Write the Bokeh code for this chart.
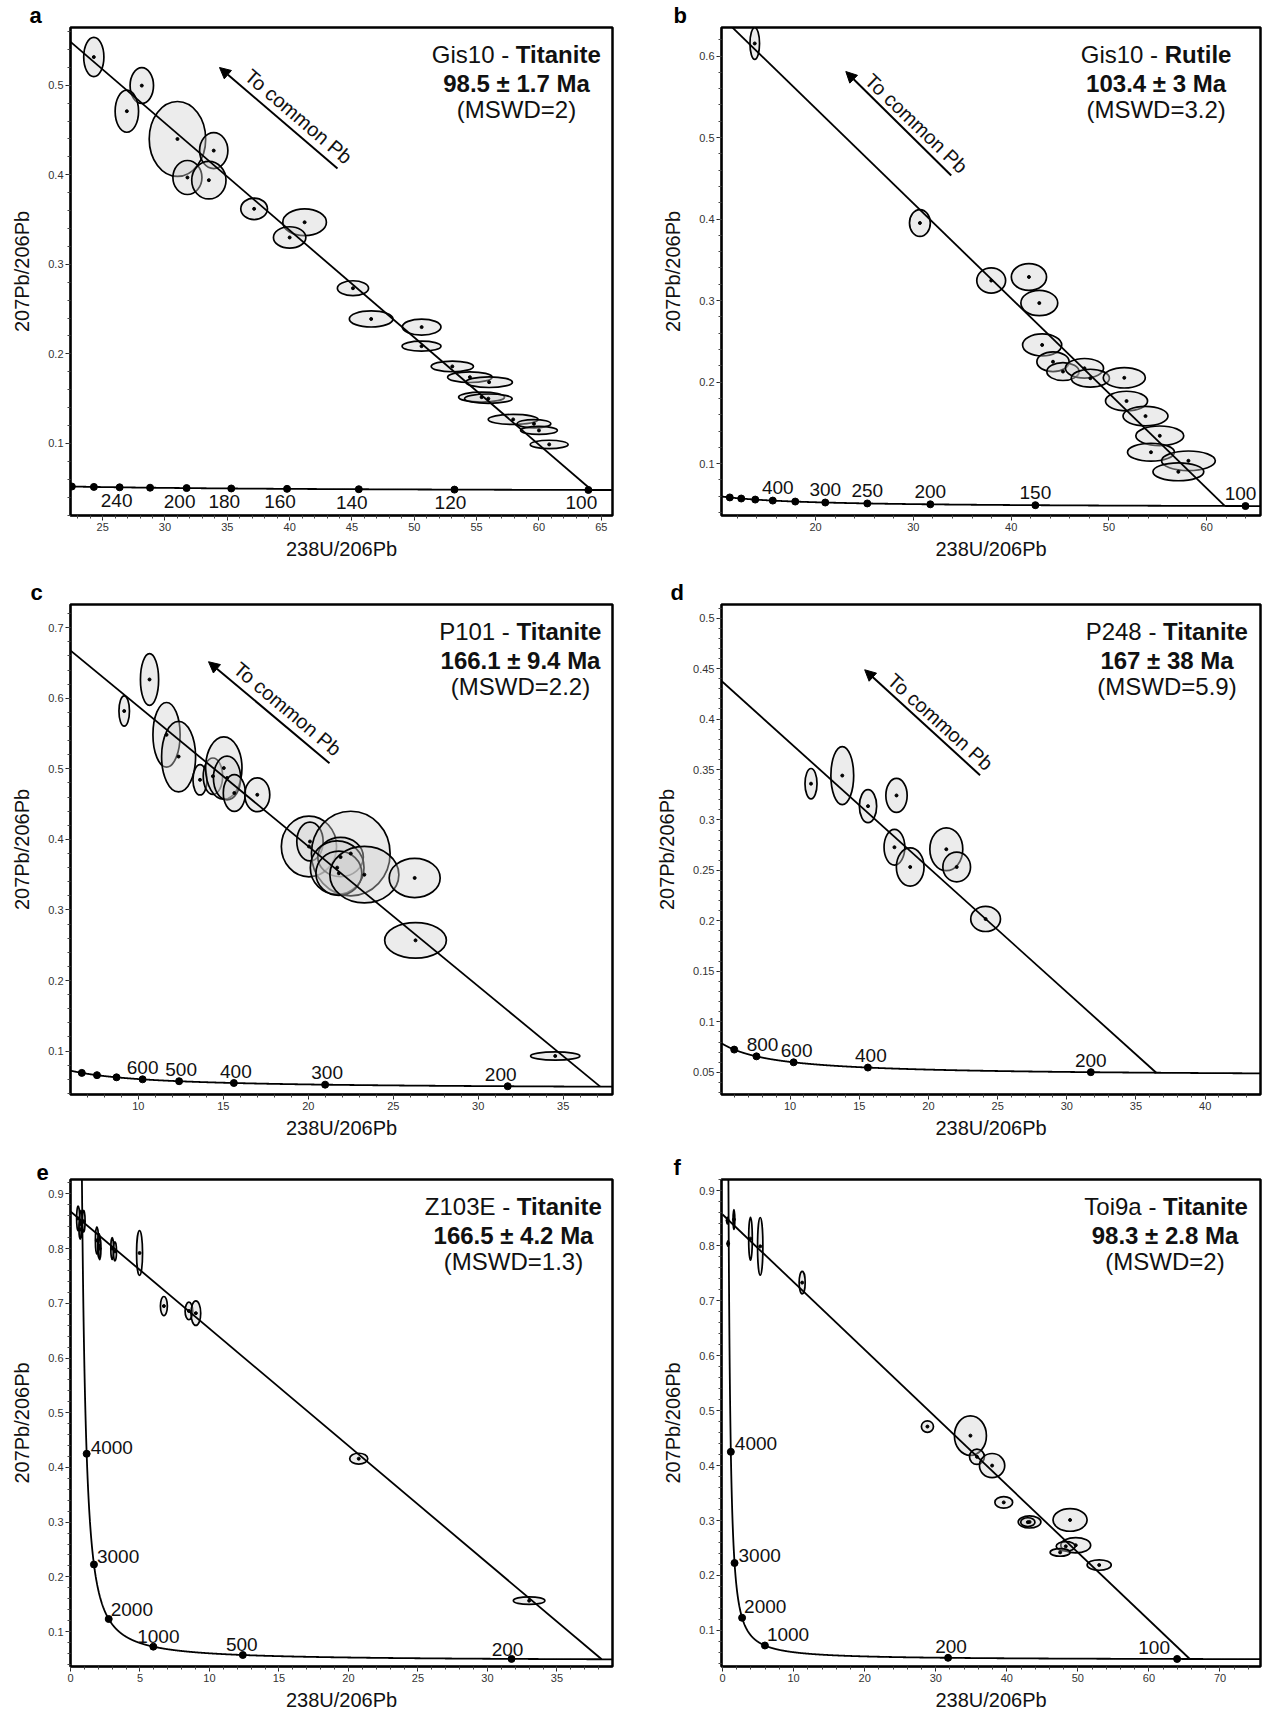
import numpy as np
from bokeh.plotting import figure
from bokeh.layouts import column, row
from bokeh.models import (FixedTicker, NumeralTickFormatter, Label, Arrow,
                          NormalHead, Range1d, ColumnDataSource)
from bokeh.core.properties import value
from bokeh.embed import file_html
from bokeh.resources import INLINE

# ---------------- constants of the U-Pb system ----------------
LAMBDA_238 = 1.55125e-10
LAMBDA_235 = 9.8485e-10
U238_U235 = 137.88

# ---------------- data ----------------
PANEL_KEYS = ["a", "b", "c", "d", "e", "f"]
SAMPLES = ["Gis10", "Gis10", "P101", "P248", "Z103E", "Toi9a"]
MINERALS = ["Titanite", "Rutile", "Titanite", "Titanite", "Titanite", "Titanite"]
AGES_TEXT = ["98.5 ± 1.7 Ma", "103.4 ± 3 Ma", "166.1 ± 9.4 Ma",
             "167 ± 38 Ma", "166.5 ± 4.2 Ma", "98.3 ± 2.8 Ma"]
MSWD_TEXT = ["(MSWD=2)", "(MSWD=3.2)", "(MSWD=2.2)",
             "(MSWD=5.9)", "(MSWD=1.3)", "(MSWD=2)"]

# discordia: common-Pb 207Pb/206Pb (at 238U/206Pb = 0) and lower intercept age (Ma)
COMMON_PB = [0.817, 0.769, 0.787, 0.500, 0.868, 0.857]
LOWER_INTERCEPT_MA = [99.6, 103.4, 171.1, 174.4, 166.5, 97.3]

X_RANGES = [(22.42, 65.9), (10.38, 65.5), (6.01, 37.9),
            (5.04, 44.0), (0.0, 39.0), (-0.15, 75.7)]
Y_RANGES = [(0.0195, 0.5645), (0.0364, 0.635), (0.0384, 0.733),
            (0.028, 0.5135), (0.0362, 0.9263), (0.0343, 0.9207)]

X_TICK_LABELS = [["25", "30", "35", "40", "45", "50", "55", "60", "65"],
                 ["20", "30", "40", "50", "60"],
                 ["10", "15", "20", "25", "30", "35"],
                 ["10", "15", "20", "25", "30", "35", "40"],
                 ["0", "5", "10", "15", "20", "25", "30", "35"],
                 ["0", "10", "20", "30", "40", "50", "60", "70"]]
Y_TICK_LABELS = [["0.1", "0.2", "0.3", "0.4", "0.5"],
                 ["0.1", "0.2", "0.3", "0.4", "0.5", "0.6"],
                 ["0.1", "0.2", "0.3", "0.4", "0.5", "0.6", "0.7"],
                 ["0.05", "0.1", "0.15", "0.2", "0.25", "0.3", "0.35", "0.4", "0.45", "0.5"],
                 ["0.1", "0.2", "0.3", "0.4", "0.5", "0.6", "0.7", "0.8", "0.9"],
                 ["0.1", "0.2", "0.3", "0.4", "0.5", "0.6", "0.7", "0.8", "0.9"]]

# concordia age markers (Ma) and which of them carry a label
CONC_AGES = [[100, 120, 140, 160, 180, 200, 220, 240, 260, 280],
             [100, 150, 200, 250, 300, 350, 400, 450, 500, 550],
             [200, 300, 400, 500, 600, 700, 800, 900],
             [200, 400, 600, 800, 1000],
             [200, 500, 1000, 2000, 3000, 4000],
             [100, 200, 1000, 2000, 3000, 4000]]
CONC_LABELLED = [[100, 120, 140, 160, 180, 200, 240],
                 [100, 150, 200, 250, 300, 400],
                 [200, 300, 400, 500, 600],
                 [200, 400, 600, 800],
                 [200, 500, 1000, 2000, 3000, 4000],
                 [100, 200, 1000, 2000, 3000, 4000]]

# error ellipses: centre (238U/206Pb, 207Pb/206Pb), full width, full height
A_X = [24.29, 28.14, 26.94, 31.0, 33.91, 31.8, 33.52, 37.15, 41.2, 40.0, 45.08, 46.54,
       50.59, 50.58, 53.05, 54.46, 56.0, 55.4, 55.94, 57.93, 59.6, 60.0, 60.82]
A_Y = [0.5315, 0.4996, 0.471, 0.440, 0.427, 0.397, 0.394, 0.362, 0.347, 0.330, 0.2733, 0.239,
       0.2299, 0.2086, 0.186, 0.174, 0.1684, 0.1517, 0.150, 0.1268, 0.122, 0.1145, 0.0989]
A_W = [1.62, 1.88, 1.88, 4.53, 2.27, 2.33, 2.75, 2.14, 3.5, 2.6, 2.5, 3.5,
       3.1, 3.12, 3.39, 3.58, 3.74, 3.69, 3.82, 4.0, 2.7, 2.95, 3.04]
A_H = [0.0438, 0.040, 0.047, 0.0837, 0.040, 0.038, 0.042, 0.024, 0.030, 0.024, 0.0167, 0.018,
       0.018, 0.0112, 0.0119, 0.0119, 0.0119, 0.0112, 0.0104, 0.0112, 0.0093, 0.0089, 0.0093]

B_X = [13.78, 30.67, 37.96, 41.82, 42.88, 43.17, 44.28, 45.3, 47.5, 48.1, 51.57, 51.8,
       53.74, 55.2, 54.3, 58.13, 57.1]
B_Y = [0.6154, 0.3952, 0.3246, 0.329, 0.297, 0.2456, 0.225, 0.213, 0.217, 0.2048, 0.2053,
       0.1768, 0.1583, 0.1342, 0.114, 0.1035, 0.090]
B_W = [0.98, 2.13, 2.95, 3.6, 3.77, 4.0, 3.3, 3.3, 3.9, 3.9, 4.3, 4.3, 4.6, 4.9, 4.8, 5.5, 5.2]
B_H = [0.039, 0.033, 0.031, 0.033, 0.031, 0.027, 0.024, 0.022, 0.024, 0.022, 0.025, 0.024,
       0.024, 0.024, 0.022, 0.024, 0.022]

C_X = [9.17, 10.66, 11.66, 12.37, 13.63, 14.39, 15.03, 15.22, 15.65, 17.0, 20.04, 20.1,
       22.5, 21.9, 21.7, 21.8, 23.3, 26.26, 26.31, 34.53]
C_Y = [0.582, 0.6267, 0.5483, 0.5174, 0.4845, 0.4896, 0.5012, 0.487, 0.4658, 0.4633, 0.390,
       0.397, 0.380, 0.375, 0.360, 0.352, 0.350, 0.3454, 0.2569, 0.093]
C_W = [0.62, 1.07, 1.6, 2.0, 0.83, 1.14, 2.14, 1.6, 1.3, 1.47, 3.25, 1.55,
       4.63, 2.68, 3.16, 2.7, 4.06, 3.0, 3.63, 2.9]
C_H = [0.043, 0.0733, 0.0916, 0.100, 0.043, 0.0516, 0.0885, 0.062, 0.052, 0.048, 0.086,
       0.055, 0.120, 0.0556, 0.076, 0.063, 0.080, 0.0556, 0.0506, 0.0116]

D_X = [11.51, 13.77, 15.63, 17.69, 17.54, 18.68, 21.29, 22.04, 24.13]
D_Y = [0.336, 0.344, 0.3137, 0.3243, 0.273, 0.2534, 0.271, 0.2534, 0.2019]
D_W = [0.87, 1.65, 1.25, 1.54, 1.5, 2.0, 2.38, 2.0, 2.15]
D_H = [0.030, 0.0575, 0.0327, 0.0337, 0.0355, 0.038, 0.0426, 0.0295, 0.0248]

E_X = [0.55, 0.75, 0.95, 0.70, 1.9, 2.05, 2.1, 3.0, 3.2, 4.97, 6.72, 8.52, 9.02, 20.74, 33.0]
E_Y = [0.855, 0.845, 0.850, 0.835, 0.815, 0.805, 0.800, 0.800, 0.795, 0.792, 0.695, 0.686,
       0.682, 0.416, 0.1566]
E_W = [0.22, 0.2, 0.2, 0.18, 0.22, 0.2, 0.18, 0.2, 0.22, 0.43, 0.5, 0.55, 0.7, 1.3, 2.27]
E_H = [0.045, 0.05, 0.04, 0.035, 0.05, 0.045, 0.04, 0.04, 0.035, 0.082, 0.035, 0.032,
       0.045, 0.02, 0.014]

F_X = [0.7, 0.78, 1.6, 3.93, 5.3, 11.2, 28.83, 34.88, 35.8, 37.93, 39.57, 43.2, 42.96,
       48.9, 49.7, 48.3, 47.5, 53.0]
F_Y = [0.846, 0.804, 0.848, 0.813, 0.799, 0.733, 0.471, 0.4545, 0.416, 0.400, 0.333, 0.2974,
       0.297, 0.301, 0.255, 0.253, 0.242, 0.219]
F_W = [0.25, 0.2, 0.25, 0.51, 0.75, 0.85, 1.7, 4.5, 2.1, 3.56, 2.5, 3.2, 2.0, 4.8, 4.2,
       2.7, 2.8, 3.4]
F_H = [0.012, 0.01, 0.036, 0.078, 0.105, 0.041, 0.021, 0.072, 0.028, 0.044, 0.021, 0.022,
       0.016, 0.041, 0.028, 0.017, 0.014, 0.019]

ELLIPSES = [(A_X, A_Y, A_W, A_H), (B_X, B_Y, B_W, B_H), (C_X, C_Y, C_W, C_H),
            (D_X, D_Y, D_W, D_H), (E_X, E_Y, E_W, E_H), (F_X, F_Y, F_W, F_H)]

X_LABEL = "238U/206Pb"
Y_LABEL = "207Pb/206Pb"
ARROW_TEXT = "To common Pb"

# ---------------- layout / style ----------------
FONT = "Liberation Sans"
COL_W = [640, 622]
BORDER_L = [70, 81]
BORDER_R = [28, 2]
ROW_H = [577, 573, 563]
BORDER_T = [27, 27, 29]
BORDER_B = [62, 56, 46]
REF_FW, REF_FH = 542.0, 488.0

X_MINOR_STEP = [1, 2, 1, 1, 1, 2]
Y_MINOR_STEP = [0.02, 0.02, 0.02, 0.01, 0.02, 0.02]

TITLE_RIGHT_OFF = [96, 105, 92, 94, 99, 96]
TITLE_LINE_Y = [27, 56, 82]
LETTER_OFF_X = [-41, -48, -40, -51, -34, -48]
# arrow tail, arrow head, text centre (reference frame px), angle (deg)
ARROWS = {0: ((267, 141), (149, 40), (228, 89), 40.5),
          1: ((231, 148), (125, 44), (196, 96), 44.0),
          2: ((259, 158), (138, 57), (217, 104), 40.0),
          3: ((260, 170), (144, 65), (220, 117), 42.0)}
# concordia label placement: (align, dx px, dy px) per age, with default
LABEL_STYLE = [
    {"default": ("center", -7, 13), 240: ("center", -3, 13), 120: ("center", -4, 13)},
    {"default": ("center", 0, -13), 400: ("center", 5, -13), 100: ("center", -5, -13)},
    {"default": ("center", 2, -12), 600: ("center", 0, -12), 200: ("center", -7, -12)},
    {"default": ("center", 3, -12), 800: ("center", 6, -12), 200: ("center", 0, -12)},
    {"default": ("center", 0, -10), 4000: ("left", 4, -6), 3000: ("left", 3, -8),
     2000: ("left", 2, -10), 1000: ("center", 5, -10), 500: ("center", -1, -10),
     200: ("center", -4, -9)},
    {"default": ("center", 0, -10), 4000: ("left", 4, -8), 3000: ("left", 4, -8),
     2000: ("left", 2, -11), 1000: ("left", 2, -11), 200: ("center", 3, -11),
     100: ("center", -23, -11)},
]

REG_W = {'G': 778, 'i': 222, 's': 500, '1': 556, '0': 556, ' ': 278, '-': 333, 'P': 667,
         '2': 556, '4': 556, '8': 556, 'Z': 611, '3': 556, 'E': 667, 'T': 611, 'o': 556,
         '9': 556, 'a': 556}
BOLD_W = {'T': 611, 'i': 278, 't': 333, 'a': 556, 'n': 611, 'e': 556, 'R': 722, 'u': 611,
          'l': 278}


def text_width(s, table, size):
    return sum(table.get(ch, 556) for ch in s) / 1000.0 * size


def concordia(t_ma):
    t = np.asarray(t_ma, dtype=float) * 1e6
    e8 = np.expm1(LAMBDA_238 * t)
    e5 = np.expm1(LAMBDA_235 * t)
    return 1.0 / e8, e5 / (U238_U235 * e8)


def make_panel(i):
    col, rw = i % 2, i // 2
    fw = COL_W[col] - BORDER_L[col] - BORDER_R[col]
    fh = ROW_H[rw] - BORDER_T[rw] - BORDER_B[rw]
    x0, x1 = X_RANGES[i]
    y0, y1 = Y_RANGES[i]

    def fp(dx, dy):
        # reference-frame pixel offsets -> data coordinates
        sx = dx / REF_FW * fw
        sy = dy / REF_FH * fh
        return x0 + sx / fw * (x1 - x0), y1 - sy / fh * (y1 - y0)

    p = figure(width=COL_W[col], height=ROW_H[rw],
               x_range=Range1d(x0, x1), y_range=Range1d(y0, y1),
               output_backend="svg", toolbar_location=None,
               min_border_left=BORDER_L[col], min_border_right=BORDER_R[col],
               min_border_top=BORDER_T[rw], min_border_bottom=BORDER_B[rw])
    p.grid.visible = False
    p.background_fill_color = "white"
    p.border_fill_color = "white"
    p.outline_line_color = "black"
    p.outline_line_width = 2.5
    p.outline_line_alpha = 1.0

    # panel letter as the figure title (drawn outside the frame)
    p.title.text = PANEL_KEYS[i]
    p.title.text_font = FONT
    p.title.text_font_size = "22px"
    p.title.text_font_style = "bold"
    p.title.text_color = "black"
    p.title.align = "left"
    p.title.offset = LETTER_OFF_X[i]
    p.title.standoff = 0

    xt = [float(s) for s in X_TICK_LABELS[i]]
    yt = [float(s) for s in Y_TICK_LABELS[i]]
    xs = X_MINOR_STEP[i]
    ys = Y_MINOR_STEP[i]
    xminor = np.round(np.arange(np.ceil(x0 / xs) * xs, x1, xs), 6).tolist()
    yminor = np.round(np.arange(np.ceil(y0 / ys) * ys, y1, ys), 6).tolist()
    p.xaxis.ticker = FixedTicker(ticks=xt, minor_ticks=xminor)
    p.yaxis.ticker = FixedTicker(ticks=yt, minor_ticks=yminor)
    for ax in (p.xaxis[0], p.yaxis[0]):
        ax.formatter = NumeralTickFormatter(format="0.[00]")
        ax.axis_line_color = "black"
        ax.axis_line_width = 1.5
        ax.major_tick_in = 0
        ax.major_tick_out = 5
        ax.minor_tick_in = 0
        ax.minor_tick_out = 3
        ax.major_tick_line_color = "#222222"
        ax.minor_tick_line_color = "#444444"
        ax.major_label_text_font = FONT
        ax.major_label_text_font_size = "11px"
        ax.major_label_text_color = "#333333"
        ax.major_label_standoff = 2
        ax.axis_label_text_font = FONT
        ax.axis_label_text_font_style = "normal"
        ax.axis_label_text_font_size = "20px"
        ax.axis_label_text_color = "#111111"
    p.xaxis.axis_label = X_LABEL
    p.yaxis.axis_label = Y_LABEL
    p.xaxis.axis_label_standoff = 4
    p.yaxis.axis_label_standoff = 12

    # concordia curve
    t_curve = np.geomspace(70, 5600, 3000)
    cx, cy = concordia(t_curve)
    p.line(cx, cy, line_color="black", line_width=1.8)

    # ellipses
    ex, ey, ew, eh = ELLIPSES[i]
    src = ColumnDataSource(dict(x=ex, y=ey, w=ew, h=eh))
    p.ellipse(x="x", y="y", width="w", height="h", source=src,
              fill_color="#cfcfcf", fill_alpha=0.4,
              line_color="black", line_width=1.7)
    p.scatter(x="x", y="y", source=src, size=3, color="black")

    # discordia
    xi, yi = concordia([LOWER_INTERCEPT_MA[i]])
    p.line([0.0, float(xi[0])], [COMMON_PB[i], float(yi[0])],
           line_color="black", line_width=1.8)

    # concordia age markers and labels
    ax_, ay_ = concordia(CONC_AGES[i])
    p.scatter(ax_, ay_, size=7, color="black")
    styles = LABEL_STYLE[i]
    for age in CONC_LABELLED[i]:
        lx, ly = concordia([age])
        align, dx, dy = styles.get(age, styles["default"])
        p.text(x=[float(lx[0])], y=[float(ly[0])], text=[str(age)],
               x_offset=dx, y_offset=dy, text_align=align, text_baseline="middle",
               text_font=value(FONT), text_font_size="19px", text_color="#111111")

    # title block
    size = 24
    cxp = REF_FW - TITLE_RIGHT_OFF[i]
    reg = SAMPLES[i] + " - "
    bold = MINERALS[i]
    w_reg = text_width(reg, REG_W, size)
    w_bold = text_width(bold, BOLD_W, size)
    split_px = cxp / REF_FW * fw - (w_reg + w_bold) / 2 + w_reg
    sx_data = x0 + split_px / fw * (x1 - x0)
    _, ty1 = fp(0, TITLE_LINE_Y[0])
    p.add_layout(Label(x=sx_data, y=ty1, text=reg, text_align="right",
                       text_baseline="middle", text_font=FONT,
                       text_font_size=f"{size}px", text_color="#111111"))
    p.add_layout(Label(x=sx_data, y=ty1, text=bold, text_align="left",
                       text_baseline="middle", text_font=FONT, text_font_style="bold",
                       text_font_size=f"{size}px", text_color="#111111"))
    tx2, ty2 = fp(cxp, TITLE_LINE_Y[1])
    p.add_layout(Label(x=tx2, y=ty2, text=AGES_TEXT[i], text_align="center",
                       text_baseline="middle", text_font=FONT, text_font_style="bold",
                       text_font_size=f"{size}px", text_color="#111111"))
    tx3, ty3 = fp(cxp, TITLE_LINE_Y[2])
    p.add_layout(Label(x=tx3, y=ty3, text=MSWD_TEXT[i], text_align="center",
                       text_baseline="middle", text_font=FONT,
                       text_font_size=f"{size}px", text_color="#111111"))

    # "To common Pb" arrow
    if i in ARROWS:
        tail, head, tc, ang = ARROWS[i]
        xs0, ys0 = fp(*tail)
        xe0, ye0 = fp(*head)
        p.add_layout(Arrow(x_start=xs0, y_start=ys0, x_end=xe0, y_end=ye0,
                           line_color="black", line_width=2,
                           end=NormalHead(size=11, fill_color="black",
                                          line_color="black", line_width=1)))
        txc, tyc = fp(*tc)
        p.add_layout(Label(x=txc, y=tyc, text=ARROW_TEXT, text_align="center",
                           text_baseline="middle", angle=-ang, angle_units="deg",
                           text_font=FONT, text_font_size="20px",
                           text_color="#111111"))
    return p


panels = [make_panel(i) for i in range(6)]
layout = column(row(panels[0], panels[1]), row(panels[2], panels[3]),
                row(panels[4], panels[5]))

open("out.html", "w").write(file_html(layout, INLINE, title="Tera-Wasserburg diagrams"))
